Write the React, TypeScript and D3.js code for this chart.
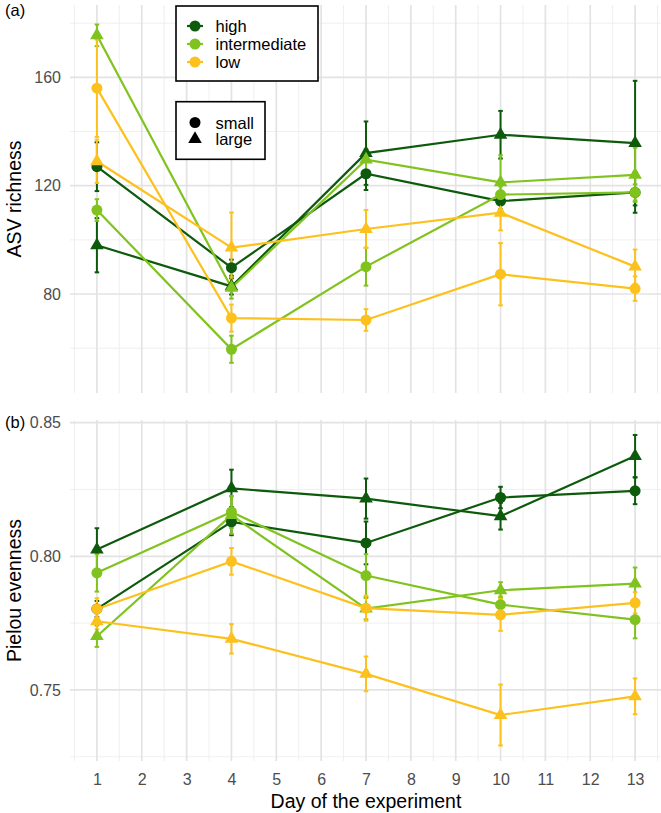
import React, { useEffect, useRef } from "react";
import * as d3 from "d3";

const days = [1, 4, 7, 10, 13];
const dayLabels = [1, 2, 3, 4, 5, 6, 7, 8, 9, 10, 11, 12, 13];
const levels = ["high", "intermediate", "low"];
const levelColors = ["#0e5a0c", "#80c31e", "#fcc11d"];
const sizes = ["small", "large"];

// ASV richness, mean and error per day
const richHighSmall = [127, 89.7, 124.4, 114.3, 117.5];
const richHighSmallErr = [9, 3, 6, 3, 7.5];
const richHighLarge = [98, 82.8, 132, 138.8, 135.7];
const richHighLargeErr = [10, 3, 11.7, 8.8, 23];
const richIntSmall = [111, 59.6, 90.1, 116.7, 117.5];
const richIntSmallErr = [4, 5, 7, 3, 3];
const richIntLarge = [175.5, 82.3, 129.6, 121.2, 124];
const richIntLargeErr = [4, 4, 4, 10, 10];
const richLowSmall = [156, 71.1, 70.4, 87.3, 82];
const richLowSmallErr = [18, 5, 4, 11.5, 4.5];
const richLowLarge = [129, 97.1, 104, 110, 90.1];
const richLowLargeErr = [8, 13, 7, 6.5, 6.3];

// Pielou evenness, mean and error per day
const evenHighSmall = [0.7803, 0.8129, 0.805, 0.822, 0.8245];
const evenHighSmallErr = [0.003, 0.005, 0.008, 0.004, 0.005];
const evenHighLarge = [0.8025, 0.8254, 0.8216, 0.815, 0.8375];
const evenHighLargeErr = [0.008, 0.007, 0.0075, 0.005, 0.0079];
const evenIntSmall = [0.7938, 0.8166, 0.7928, 0.7819, 0.7763];
const evenIntSmallErr = [0.007, 0.006, 0.008, 0.003, 0.007];
const evenIntLarge = [0.7701, 0.8154, 0.7804, 0.7873, 0.7898];
const evenIntLargeErr = [0.004, 0.007, 0.004, 0.003, 0.006];
const evenLowSmall = [0.7803, 0.7981, 0.7806, 0.7781, 0.7826];
const evenLowSmallErr = [0.004, 0.005, 0.0047, 0.006, 0.004];
const evenLowLarge = [0.7757, 0.7691, 0.756, 0.7406, 0.7476];
const evenLowLargeErr = [0.003, 0.0055, 0.0065, 0.0114, 0.0067];

const richTicks = [80, 120, 160];
const richMinor = [60, 100, 140, 180];
const evenTicks = [0.75, 0.8, 0.85];
const evenMinor = [0.725, 0.775, 0.825];

const richnessSeries = [
  { level: "high", size: "small", mean: richHighSmall, err: richHighSmallErr },
  { level: "high", size: "large", mean: richHighLarge, err: richHighLargeErr },
  { level: "intermediate", size: "small", mean: richIntSmall, err: richIntSmallErr },
  { level: "intermediate", size: "large", mean: richIntLarge, err: richIntLargeErr },
  { level: "low", size: "small", mean: richLowSmall, err: richLowSmallErr },
  { level: "low", size: "large", mean: richLowLarge, err: richLowLargeErr },
];

const evennessSeries = [
  { level: "high", size: "small", mean: evenHighSmall, err: evenHighSmallErr },
  { level: "high", size: "large", mean: evenHighLarge, err: evenHighLargeErr },
  { level: "intermediate", size: "small", mean: evenIntSmall, err: evenIntSmallErr },
  { level: "intermediate", size: "large", mean: evenIntLarge, err: evenIntLargeErr },
  { level: "low", size: "small", mean: evenLowSmall, err: evenLowSmallErr },
  { level: "low", size: "large", mean: evenLowLarge, err: evenLowLargeErr },
];

const FONT = "'Liberation Sans', Arial, Helvetica, sans-serif";

export default function App() {
  const ref = useRef<SVGSVGElement>(null);

  useEffect(() => {
    const width = 661;
    const height = 813;
    const svg = d3.select(ref.current).attr("width", width).attr("height", height);
    svg.selectAll("*").remove();

    const color = d3.scaleOrdinal<string, string>().domain(levels).range(levelColors);
    const symbol = d3.scaleOrdinal<string, any>().domain(sizes).range([d3.symbolCircle, d3.symbolTriangle]);
    const symbolSize = (s: string) => (s === "small" ? 95 : 80);

    const x = d3.scaleLinear().domain([0.4, 13.6]).range([70, 662]);

    const drawPanel = (
      series: typeof richnessSeries,
      y: d3.ScaleLinear<number, number>,
      ticks: number[],
      minor: number[],
      fmt: (d: number) => string,
      labelAxis: boolean
    ) => {
      const [top, bottom] = [y.range()[1], y.range()[0]];
      const g = svg.append("g");

      // grid
      g.selectAll(".hminor").data(minor).join("line")
        .attr("x1", 70).attr("x2", 662)
        .attr("y1", d => y(d)).attr("y2", d => y(d))
        .attr("stroke", "#ededed").attr("stroke-width", 0.9);
      g.selectAll(".vminor").data(dayLabels.map(d => d - 0.5).concat([13.5])).join("line")
        .attr("x1", d => x(d)).attr("x2", d => x(d))
        .attr("y1", top).attr("y2", bottom)
        .attr("stroke", "#ededed").attr("stroke-width", 0.9);
      g.selectAll(".hmajor").data(ticks).join("line")
        .attr("x1", 70).attr("x2", 662)
        .attr("y1", d => y(d)).attr("y2", d => y(d))
        .attr("stroke", "#e3e3e3").attr("stroke-width", 1.7);
      g.selectAll(".vmajor").data(dayLabels).join("line")
        .attr("x1", d => x(d)).attr("x2", d => x(d))
        .attr("y1", top).attr("y2", bottom)
        .attr("stroke", "#e3e3e3").attr("stroke-width", 1.7);

      // y axis labels
      const yAxis = d3.axisLeft(y).tickValues(ticks).tickSize(0).tickPadding(9).tickFormat(fmt as any);
      const ya = g.append("g").attr("transform", "translate(70,0)").call(yAxis);
      ya.select(".domain").remove();
      ya.selectAll("text").attr("font-size", 16).attr("font-family", FONT).attr("fill", "#4d4d4d");

      if (labelAxis) {
        const xAxis = d3.axisBottom(x).tickValues(dayLabels).tickSize(0).tickPadding(12.6);
        const xa = g.append("g").attr("transform", `translate(0,${bottom})`).call(xAxis);
        xa.select(".domain").remove();
        xa.selectAll("text").attr("font-size", 16).attr("font-family", FONT).attr("fill", "#4d4d4d");
      }

      const pts = (s: (typeof series)[number]) =>
        days.map((d, i) => ({ day: d, mean: s.mean[i], err: s.err[i] }));

      const line = d3.line<{ day: number; mean: number }>()
        .x(d => x(d.day)).y(d => y(d.mean));

      g.selectAll(".series-line").data(series).join("path")
        .attr("d", s => line(pts(s)))
        .attr("fill", "none")
        .attr("stroke", s => color(s.level))
        .attr("stroke-width", 2.2);

      const cap = 2.3;
      series.forEach(s => {
        const eg = g.append("g").attr("stroke", color(s.level)).attr("stroke-width", 2);
        pts(s).forEach(p => {
          const cx = x(p.day);
          const y0 = y(p.mean - p.err);
          const y1 = y(p.mean + p.err);
          eg.append("line").attr("x1", cx).attr("x2", cx).attr("y1", y0).attr("y2", y1);
          eg.append("line").attr("x1", cx - cap).attr("x2", cx + cap).attr("y1", y0).attr("y2", y0);
          eg.append("line").attr("x1", cx - cap).attr("x2", cx + cap).attr("y1", y1).attr("y2", y1);
        });
      });

      series.forEach(s => {
        g.append("g").selectAll("path").data(pts(s)).join("path")
          .attr("transform", p => `translate(${x(p.day)},${y(p.mean)})`)
          .attr("d", d3.symbol(symbol(s.size), symbolSize(s.size))())
          .attr("fill", color(s.level));
      });
    };

    const yRich = d3.scaleLinear().domain([43.45, 186.7]).range([393, 5]);
    const yEven = d3.scaleLinear().domain([0.7234, 0.851]).range([761, 420]);

    drawPanel(richnessSeries, yRich, richTicks, richMinor, d => String(d), false);
    drawPanel(evennessSeries, yEven, evenTicks, evenMinor, d => d.toFixed(2), true);

    // panel tags
    svg.append("text").attr("x", 5).attr("y", 16).attr("font-size", 16.5)
      .attr("font-family", FONT).text("(a)");
    svg.append("text").attr("x", 5).attr("y", 428).attr("font-size", 16.5)
      .attr("font-family", FONT).text("(b)");

    // axis titles
    svg.append("text")
      .attr("transform", `translate(21,${(5 + 393) / 2}) rotate(-90)`)
      .attr("text-anchor", "middle").attr("font-size", 19.5).attr("font-family", FONT)
      .text("ASV richness");
    svg.append("text")
      .attr("transform", `translate(21,${(420 + 761) / 2}) rotate(-90)`)
      .attr("text-anchor", "middle").attr("font-size", 19.5).attr("font-family", FONT)
      .text("Pielou evenness");
    svg.append("text")
      .attr("x", (70 + 662) / 2).attr("y", 808)
      .attr("text-anchor", "middle").attr("font-size", 19.5).attr("font-family", FONT)
      .text("Day of the experiment");

    // colour legend
    const lg = svg.append("g");
    lg.append("rect").attr("x", 176).attr("y", 6).attr("width", 142).attr("height", 75)
      .attr("fill", "white").attr("stroke", "black").attr("stroke-width", 1.6);
    levels.forEach((lv, i) => {
      const cy = 26 + i * 18;
      lg.append("line").attr("x1", 187).attr("x2", 203).attr("y1", cy).attr("y2", cy)
        .attr("stroke", color(lv)).attr("stroke-width", 2.2);
      lg.append("path").attr("transform", `translate(195,${cy})`)
        .attr("d", d3.symbol(d3.symbolCircle, 95)()).attr("fill", color(lv));
      lg.append("text").attr("x", 215.5).attr("y", cy + 6).attr("font-size", 16.5)
        .attr("font-family", FONT).text(lv);
    });

    // size legend
    lg.append("rect").attr("x", 176).attr("y", 101.7).attr("width", 89).attr("height", 57.6)
      .attr("fill", "white").attr("stroke", "black").attr("stroke-width", 1.6);
    sizes.forEach((sz, i) => {
      const cy = 122.5 + i * 16.5;
      lg.append("path").attr("transform", `translate(195,${cy})`)
        .attr("d", d3.symbol(symbol(sz), symbolSize(sz))()).attr("fill", "black");
      lg.append("text").attr("x", 215.5).attr("y", cy + 6).attr("font-size", 16.5)
        .attr("font-family", FONT).text(sz);
    });
  }, []);

  return (
    <svg ref={ref} style={{ position: "absolute", left: 0, top: 0, display: "block", background: "white" }} />
  );
}
